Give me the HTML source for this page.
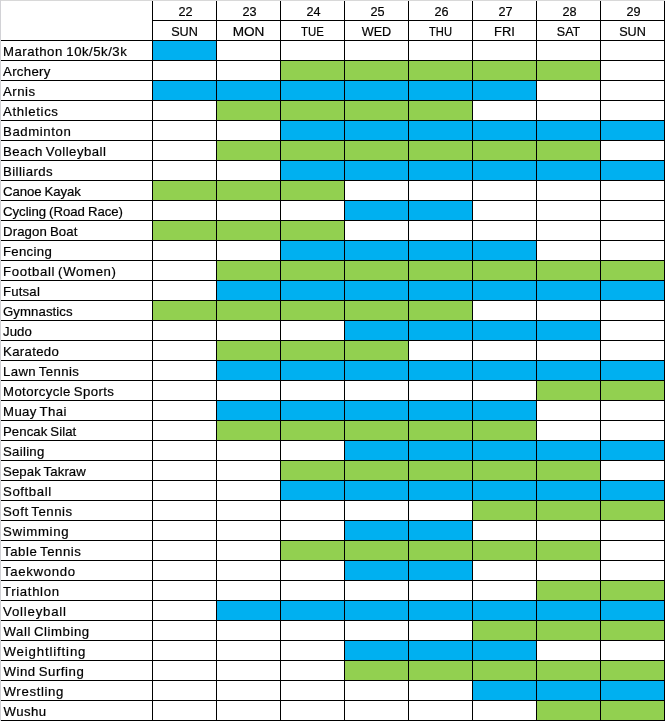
<!DOCTYPE html>
<html><head><meta charset="utf-8"><title>Schedule</title>
<style>
html,body{margin:0;padding:0;background:#fff;}
#w{position:relative;width:665px;height:721px;overflow:hidden;background:#fff;font-family:"Liberation Sans",sans-serif;font-size:13.2px;color:#000;-webkit-text-stroke:0.2px #000;}
#w div{position:absolute;}
.b{background:#00b0f0;height:19px;}
.g{background:#92d050;height:19px;}
.h{background:#000;height:1px;}
.v{background:#000;width:1px;}
.t{left:3px;word-spacing:0px;height:19px;line-height:19px;white-space:nowrap;}
.d{width:63px;height:19px;line-height:19px;text-align:center;white-space:nowrap;}
</style></head><body><div id="w">

<div style="left:0;top:0;width:665px;height:1px;background:#d8d8d8"></div>
<div style="left:0;top:0;width:1px;height:721px;background:#d2d2d6"></div>
<div class="b" style="left:153px;top:41px;width:63px"></div>
<div class="g" style="left:281px;top:61px;width:319px"></div>
<div class="b" style="left:153px;top:81px;width:383px"></div>
<div class="g" style="left:217px;top:101px;width:255px"></div>
<div class="b" style="left:281px;top:121px;width:383px"></div>
<div class="g" style="left:217px;top:141px;width:383px"></div>
<div class="b" style="left:281px;top:161px;width:383px"></div>
<div class="g" style="left:153px;top:181px;width:191px"></div>
<div class="b" style="left:345px;top:201px;width:127px"></div>
<div class="g" style="left:153px;top:221px;width:191px"></div>
<div class="b" style="left:281px;top:241px;width:255px"></div>
<div class="g" style="left:217px;top:261px;width:447px"></div>
<div class="b" style="left:217px;top:281px;width:447px"></div>
<div class="g" style="left:153px;top:301px;width:319px"></div>
<div class="b" style="left:345px;top:321px;width:255px"></div>
<div class="g" style="left:217px;top:341px;width:191px"></div>
<div class="b" style="left:217px;top:361px;width:447px"></div>
<div class="g" style="left:537px;top:381px;width:127px"></div>
<div class="b" style="left:217px;top:401px;width:319px"></div>
<div class="g" style="left:217px;top:421px;width:319px"></div>
<div class="b" style="left:345px;top:441px;width:319px"></div>
<div class="g" style="left:281px;top:461px;width:319px"></div>
<div class="b" style="left:281px;top:481px;width:383px"></div>
<div class="g" style="left:473px;top:501px;width:191px"></div>
<div class="b" style="left:345px;top:521px;width:127px"></div>
<div class="g" style="left:281px;top:541px;width:319px"></div>
<div class="b" style="left:345px;top:561px;width:127px"></div>
<div class="g" style="left:537px;top:581px;width:127px"></div>
<div class="b" style="left:217px;top:601px;width:447px"></div>
<div class="g" style="left:473px;top:621px;width:191px"></div>
<div class="b" style="left:345px;top:641px;width:191px"></div>
<div class="g" style="left:345px;top:661px;width:319px"></div>
<div class="b" style="left:473px;top:681px;width:191px"></div>
<div class="g" style="left:537px;top:701px;width:127px"></div>
<div class="h" style="left:152px;top:20px;width:513px"></div>
<div class="h" style="left:1px;top:40px;width:664px"></div>
<div class="h" style="left:1px;top:60px;width:664px"></div>
<div class="h" style="left:1px;top:80px;width:664px"></div>
<div class="h" style="left:1px;top:100px;width:664px"></div>
<div class="h" style="left:1px;top:120px;width:664px"></div>
<div class="h" style="left:1px;top:140px;width:664px"></div>
<div class="h" style="left:1px;top:160px;width:664px"></div>
<div class="h" style="left:1px;top:180px;width:664px"></div>
<div class="h" style="left:1px;top:200px;width:664px"></div>
<div class="h" style="left:1px;top:220px;width:664px"></div>
<div class="h" style="left:1px;top:240px;width:664px"></div>
<div class="h" style="left:1px;top:260px;width:664px"></div>
<div class="h" style="left:1px;top:280px;width:664px"></div>
<div class="h" style="left:1px;top:300px;width:664px"></div>
<div class="h" style="left:1px;top:320px;width:664px"></div>
<div class="h" style="left:1px;top:340px;width:664px"></div>
<div class="h" style="left:1px;top:360px;width:664px"></div>
<div class="h" style="left:1px;top:380px;width:664px"></div>
<div class="h" style="left:1px;top:400px;width:664px"></div>
<div class="h" style="left:1px;top:420px;width:664px"></div>
<div class="h" style="left:1px;top:440px;width:664px"></div>
<div class="h" style="left:1px;top:460px;width:664px"></div>
<div class="h" style="left:1px;top:480px;width:664px"></div>
<div class="h" style="left:1px;top:500px;width:664px"></div>
<div class="h" style="left:1px;top:520px;width:664px"></div>
<div class="h" style="left:1px;top:540px;width:664px"></div>
<div class="h" style="left:1px;top:560px;width:664px"></div>
<div class="h" style="left:1px;top:580px;width:664px"></div>
<div class="h" style="left:1px;top:600px;width:664px"></div>
<div class="h" style="left:1px;top:620px;width:664px"></div>
<div class="h" style="left:1px;top:640px;width:664px"></div>
<div class="h" style="left:1px;top:660px;width:664px"></div>
<div class="h" style="left:1px;top:680px;width:664px"></div>
<div class="h" style="left:1px;top:700px;width:664px"></div>
<div class="h" style="left:1px;top:720px;width:664px"></div>
<div class="v" style="left:152px;top:1px;height:720px"></div>
<div class="v" style="left:216px;top:1px;height:720px"></div>
<div class="v" style="left:280px;top:1px;height:720px"></div>
<div class="v" style="left:344px;top:1px;height:720px"></div>
<div class="v" style="left:408px;top:1px;height:720px"></div>
<div class="v" style="left:472px;top:1px;height:720px"></div>
<div class="v" style="left:536px;top:1px;height:720px"></div>
<div class="v" style="left:600px;top:1px;height:720px"></div>
<div class="v" style="left:664px;top:1px;height:720px"></div>
<div class="d" style="left:153.5px;top:2px;transform:scaleX(0.96)">22</div>
<div class="d" style="left:153.4px;top:22px;transform:scaleX(0.96)">SUN</div>
<div class="d" style="left:217.5px;top:2px;transform:scaleX(0.96)">23</div>
<div class="d" style="left:217.4px;top:22px;transform:scaleX(1.03)">MON</div>
<div class="d" style="left:281.5px;top:2px;transform:scaleX(0.96)">24</div>
<div class="d" style="left:281.4px;top:22px;transform:scaleX(0.865)">TUE</div>
<div class="d" style="left:345.5px;top:2px;transform:scaleX(0.96)">25</div>
<div class="d" style="left:345.4px;top:22px;transform:scaleX(0.96)">WED</div>
<div class="d" style="left:409.5px;top:2px;transform:scaleX(0.96)">26</div>
<div class="d" style="left:409.4px;top:22px;transform:scaleX(0.85)">THU</div>
<div class="d" style="left:473.5px;top:2px;transform:scaleX(0.96)">27</div>
<div class="d" style="left:473.4px;top:22px;transform:scaleX(0.98)">FRI</div>
<div class="d" style="left:537.5px;top:2px;transform:scaleX(0.96)">28</div>
<div class="d" style="left:537.4px;top:22px;transform:scaleX(0.95)">SAT</div>
<div class="d" style="left:601.5px;top:2px;transform:scaleX(0.96)">29</div>
<div class="d" style="left:601.4px;top:22px;transform:scaleX(0.96)">SUN</div>
<div class="t" style="top:42px;letter-spacing:0.50px;word-spacing:-0.57px">Marathon 10k/5k/3k</div>
<div class="t" style="top:62px;letter-spacing:0.33px">Archery</div>
<div class="t" style="top:82px;letter-spacing:0.51px">Arnis</div>
<div class="t" style="top:102px;letter-spacing:0.64px">Athletics</div>
<div class="t" style="top:122px;letter-spacing:0.59px">Badminton</div>
<div class="t" style="top:142px;letter-spacing:0.49px;word-spacing:-1.16px">Beach Volleyball</div>
<div class="t" style="top:162px;letter-spacing:0.44px">Billiards</div>
<div class="t" style="top:182px;letter-spacing:-0.08px;word-spacing:-0.59px">Canoe Kayak</div>
<div class="t" style="top:202px;letter-spacing:-0.02px;word-spacing:-0.65px">Cycling (Road Race)</div>
<div class="t" style="top:222px;letter-spacing:0.11px;word-spacing:-0.78px">Dragon Boat</div>
<div class="t" style="top:242px;letter-spacing:0.30px">Fencing</div>
<div class="t" style="top:262px;letter-spacing:0.65px;word-spacing:-1.32px">Football (Women)</div>
<div class="t" style="top:282px;letter-spacing:0.18px">Futsal</div>
<div class="t" style="top:302px;letter-spacing:0.08px">Gymnastics</div>
<div class="t" style="top:322px;letter-spacing:0.07px">Judo</div>
<div class="t" style="top:342px;letter-spacing:0.33px">Karatedo</div>
<div class="t" style="top:362px;letter-spacing:0.39px;word-spacing:-1.06px">Lawn Tennis</div>
<div class="t" style="top:382px;letter-spacing:0.40px;word-spacing:-1.07px">Motorcycle Sports</div>
<div class="t" style="top:402px;letter-spacing:0.39px;word-spacing:-1.06px">Muay Thai</div>
<div class="t" style="top:422px;letter-spacing:0.06px;word-spacing:-0.73px">Pencak Silat</div>
<div class="t" style="top:442px;letter-spacing:0.29px">Sailing</div>
<div class="t" style="top:462px;letter-spacing:0.09px;word-spacing:-0.76px">Sepak Takraw</div>
<div class="t" style="top:482px;letter-spacing:0.59px">Softball</div>
<div class="t" style="top:502px;letter-spacing:0.53px;word-spacing:-1.20px">Soft Tennis</div>
<div class="t" style="top:522px;letter-spacing:0.68px">Swimming</div>
<div class="t" style="top:542px;letter-spacing:0.55px;word-spacing:-1.22px">Table Tennis</div>
<div class="t" style="top:562px;letter-spacing:0.66px">Taekwondo</div>
<div class="t" style="top:582px;letter-spacing:0.65px">Triathlon</div>
<div class="t" style="top:602px;letter-spacing:0.81px">Volleyball</div>
<div class="t" style="top:622px;letter-spacing:0.56px;left:3.5px;word-spacing:-1.23px">Wall Climbing</div>
<div class="t" style="top:642px;letter-spacing:0.86px;left:3.5px">Weightlifting</div>
<div class="t" style="top:662px;letter-spacing:0.54px;left:3.5px;word-spacing:-1.21px">Wind Surfing</div>
<div class="t" style="top:682px;letter-spacing:0.65px;left:3.5px">Wrestling</div>
<div class="t" style="top:702px;letter-spacing:0.44px;left:3.5px">Wushu</div>
</div></body></html>
